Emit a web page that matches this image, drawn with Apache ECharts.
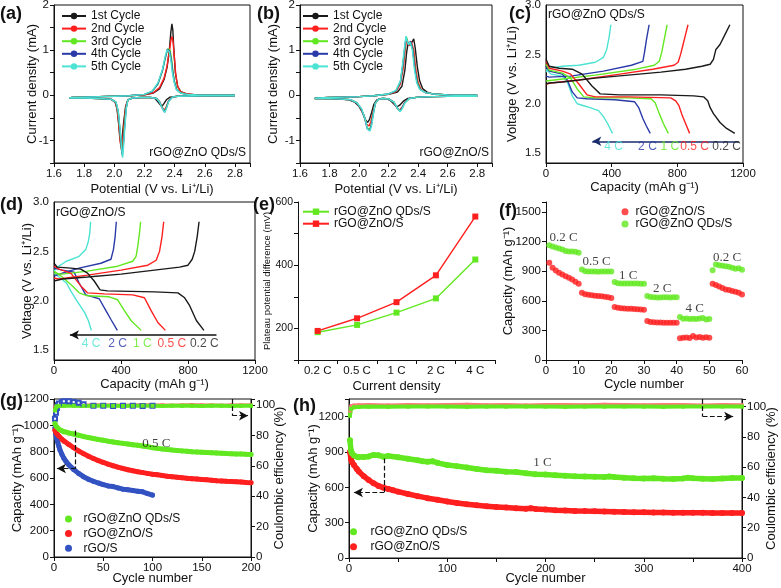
<!DOCTYPE html>
<html><head><meta charset="utf-8">
<script src="https://cdn.jsdelivr.net/npm/echarts@6/dist/echarts.min.js"></script>
<style>html,body{margin:0;padding:0;background:#fff}#c{width:781px;height:588px}</style>
</head><body><div id="c"></div>
<script>
// ---------------- DATA ----------------
// (a) CV rGO@ZnO QDs/S : [potential V, current mA], scan 2.8 -> 1.7 -> 2.8
const cvA1 = [[2.8,-0.01],[2.7,-0.01],[2.6,-0.01],[2.5,-0.015],[2.42,-0.02],[2.37,-0.04],[2.345,-0.1],[2.33,-0.18],[2.315,-0.25],[2.305,-0.24],[2.29,-0.15],[2.27,-0.07],[2.24,-0.05],[2.18,-0.05],[2.12,-0.06],[2.09,-0.1],[2.075,-0.25],[2.062,-0.6],[2.05,-1.0],[2.044,-1.1],[2.037,-0.95],[2.028,-0.6],[2.018,-0.3],[2.005,-0.15],[1.98,-0.09],[1.9,-0.07],[1.8,-0.06],[1.7,-0.06],[1.72,-0.05],[1.8,-0.04],[1.9,-0.03],[2.0,-0.02],[2.1,-0.01],[2.2,0.01],[2.26,0.05],[2.3,0.14],[2.33,0.35],[2.35,0.62],[2.365,1.0],[2.375,1.4],[2.382,1.58],[2.388,1.45],[2.395,1.0],[2.405,0.5],[2.42,0.2],[2.44,0.08],[2.48,0.03],[2.55,0.01],[2.65,0.0],[2.8,0.0]];
const cvA2 = [[2.8,-0.01],[2.6,-0.01],[2.5,-0.015],[2.42,-0.02],[2.385,-0.04],[2.36,-0.12],[2.345,-0.25],[2.332,-0.33],[2.32,-0.28],[2.3,-0.14],[2.28,-0.07],[2.24,-0.05],[2.18,-0.05],[2.12,-0.06],[2.09,-0.1],[2.075,-0.28],[2.063,-0.7],[2.053,-1.1],[2.048,-1.22],[2.04,-1.05],[2.03,-0.65],[2.02,-0.32],[2.007,-0.15],[1.98,-0.09],[1.9,-0.07],[1.8,-0.06],[1.7,-0.06],[1.72,-0.05],[1.8,-0.04],[1.9,-0.03],[2.0,-0.02],[2.1,-0.01],[2.2,0.01],[2.26,0.06],[2.3,0.17],[2.33,0.38],[2.35,0.65],[2.365,0.98],[2.377,1.25],[2.383,1.3],[2.39,1.18],[2.398,0.85],[2.408,0.45],[2.42,0.2],[2.44,0.08],[2.48,0.03],[2.55,0.01],[2.65,0.0],[2.8,0.0]];
const cvA3 = [[2.8,-0.01],[2.6,-0.01],[2.5,-0.015],[2.42,-0.02],[2.385,-0.04],[2.36,-0.13],[2.345,-0.27],[2.334,-0.36],[2.322,-0.3],[2.3,-0.15],[2.28,-0.07],[2.24,-0.05],[2.18,-0.05],[2.12,-0.06],[2.09,-0.1],[2.077,-0.3],[2.066,-0.75],[2.057,-1.15],[2.052,-1.3],[2.045,-1.1],[2.035,-0.7],[2.025,-0.35],[2.01,-0.15],[1.98,-0.09],[1.9,-0.07],[1.8,-0.06],[1.7,-0.06],[1.72,-0.05],[1.8,-0.04],[1.9,-0.03],[2.0,-0.02],[2.1,-0.01],[2.2,0.02],[2.25,0.08],[2.29,0.25],[2.32,0.55],[2.34,0.85],[2.355,1.03],[2.362,1.06],[2.37,1.0],[2.38,0.8],[2.39,0.5],[2.4,0.3],[2.415,0.13],[2.44,0.05],[2.48,0.02],[2.55,0.01],[2.65,0.0],[2.8,0.0]];
const cvA4 = [[2.8,-0.01],[2.6,-0.01],[2.5,-0.015],[2.42,-0.02],[2.385,-0.04],[2.36,-0.13],[2.345,-0.28],[2.334,-0.37],[2.322,-0.31],[2.3,-0.15],[2.28,-0.07],[2.24,-0.05],[2.18,-0.05],[2.12,-0.06],[2.09,-0.1],[2.078,-0.3],[2.067,-0.78],[2.058,-1.18],[2.053,-1.33],[2.046,-1.12],[2.036,-0.72],[2.026,-0.36],[2.011,-0.15],[1.98,-0.09],[1.9,-0.07],[1.8,-0.06],[1.7,-0.06],[1.72,-0.05],[1.8,-0.04],[1.9,-0.03],[2.0,-0.02],[2.1,-0.01],[2.2,0.02],[2.25,0.08],[2.29,0.26],[2.32,0.56],[2.34,0.86],[2.352,1.02],[2.358,1.04],[2.367,0.98],[2.378,0.78],[2.388,0.5],[2.398,0.3],[2.413,0.13],[2.44,0.05],[2.48,0.02],[2.55,0.01],[2.65,0.0],[2.8,0.0]];
const cvA5 = [[2.8,-0.01],[2.6,-0.01],[2.5,-0.015],[2.42,-0.02],[2.385,-0.04],[2.36,-0.14],[2.346,-0.29],[2.335,-0.38],[2.323,-0.32],[2.3,-0.15],[2.28,-0.07],[2.24,-0.05],[2.18,-0.05],[2.12,-0.06],[2.09,-0.1],[2.079,-0.3],[2.068,-0.8],[2.06,-1.2],[2.055,-1.38],[2.048,-1.15],[2.038,-0.74],[2.027,-0.37],[2.012,-0.15],[1.98,-0.09],[1.9,-0.07],[1.8,-0.06],[1.7,-0.06],[1.72,-0.05],[1.8,-0.04],[1.9,-0.03],[2.0,-0.02],[2.1,-0.01],[2.2,0.02],[2.25,0.09],[2.29,0.28],[2.32,0.58],[2.338,0.87],[2.35,1.01],[2.355,1.03],[2.364,0.97],[2.375,0.78],[2.385,0.5],[2.396,0.3],[2.41,0.13],[2.44,0.05],[2.48,0.02],[2.55,0.01],[2.65,0.0],[2.8,0.0]];
// (b) CV rGO@ZnO/S
const cvB1 = [[2.8,-0.02],[2.7,-0.02],[2.6,-0.025],[2.5,-0.03],[2.4,-0.04],[2.33,-0.07],[2.3,-0.13],[2.275,-0.22],[2.255,-0.26],[2.238,-0.2],[2.21,-0.11],[2.18,-0.07],[2.15,-0.07],[2.12,-0.1],[2.1,-0.2],[2.085,-0.38],[2.07,-0.54],[2.058,-0.6],[2.045,-0.55],[2.03,-0.42],[2.0,-0.25],[1.97,-0.15],[1.93,-0.1],[1.85,-0.08],[1.75,-0.07],[1.7,-0.07],[1.72,-0.06],[1.8,-0.05],[1.9,-0.04],[2.0,-0.03],[2.1,-0.01],[2.2,0.02],[2.26,0.07],[2.29,0.2],[2.31,0.55],[2.322,0.95],[2.332,1.15],[2.343,1.1],[2.352,1.08],[2.362,1.2],[2.37,1.25],[2.38,1.05],[2.395,0.62],[2.41,0.32],[2.43,0.15],[2.46,0.07],[2.5,0.03],[2.6,0.01],[2.7,0.0],[2.8,0.0]];
const cvB2 = [[2.8,-0.02],[2.6,-0.025],[2.5,-0.03],[2.4,-0.04],[2.34,-0.07],[2.31,-0.15],[2.29,-0.27],[2.272,-0.33],[2.255,-0.27],[2.23,-0.14],[2.2,-0.08],[2.16,-0.07],[2.13,-0.09],[2.11,-0.18],[2.095,-0.36],[2.08,-0.58],[2.068,-0.68],[2.06,-0.7],[2.05,-0.64],[2.035,-0.48],[2.01,-0.28],[1.98,-0.16],[1.94,-0.1],[1.86,-0.08],[1.75,-0.07],[1.7,-0.07],[1.72,-0.06],[1.8,-0.05],[1.9,-0.04],[2.0,-0.03],[2.1,-0.01],[2.2,0.02],[2.25,0.08],[2.28,0.25],[2.3,0.62],[2.312,1.0],[2.322,1.25],[2.333,1.15],[2.343,1.1],[2.353,1.2],[2.36,1.22],[2.37,1.0],[2.385,0.55],[2.4,0.28],[2.42,0.13],[2.45,0.06],[2.5,0.03],[2.6,0.01],[2.7,0.0],[2.8,0.0]];
const cvB3 = [[2.8,-0.02],[2.6,-0.025],[2.5,-0.03],[2.4,-0.04],[2.34,-0.07],[2.31,-0.16],[2.292,-0.28],[2.276,-0.35],[2.26,-0.29],[2.235,-0.15],[2.2,-0.08],[2.16,-0.07],[2.13,-0.09],[2.11,-0.18],[2.097,-0.38],[2.083,-0.64],[2.072,-0.76],[2.065,-0.78],[2.055,-0.72],[2.04,-0.52],[2.015,-0.3],[1.985,-0.17],[1.945,-0.1],[1.86,-0.08],[1.75,-0.07],[1.7,-0.07],[1.72,-0.06],[1.8,-0.05],[1.9,-0.04],[2.0,-0.03],[2.1,-0.01],[2.2,0.03],[2.25,0.1],[2.28,0.3],[2.298,0.7],[2.31,1.05],[2.32,1.3],[2.33,1.18],[2.34,1.12],[2.35,1.18],[2.356,1.18],[2.365,1.0],[2.38,0.55],[2.395,0.28],[2.415,0.13],[2.45,0.06],[2.5,0.03],[2.6,0.01],[2.7,0.0],[2.8,0.0]];
const cvB4 = [[2.8,-0.02],[2.6,-0.025],[2.5,-0.03],[2.4,-0.04],[2.34,-0.07],[2.31,-0.16],[2.292,-0.28],[2.276,-0.35],[2.26,-0.29],[2.235,-0.15],[2.2,-0.08],[2.16,-0.07],[2.13,-0.09],[2.11,-0.18],[2.097,-0.39],[2.083,-0.66],[2.072,-0.78],[2.065,-0.8],[2.055,-0.74],[2.04,-0.53],[2.015,-0.3],[1.985,-0.17],[1.945,-0.1],[1.86,-0.08],[1.75,-0.07],[1.7,-0.07],[1.72,-0.06],[1.8,-0.05],[1.9,-0.04],[2.0,-0.03],[2.1,-0.01],[2.2,0.03],[2.25,0.1],[2.28,0.3],[2.298,0.72],[2.31,1.08],[2.318,1.28],[2.328,1.17],[2.338,1.12],[2.348,1.2],[2.353,1.22],[2.363,1.02],[2.378,0.57],[2.393,0.28],[2.413,0.13],[2.45,0.06],[2.5,0.03],[2.6,0.01],[2.7,0.0],[2.8,0.0]];
const cvB5 = [[2.8,-0.02],[2.6,-0.025],[2.5,-0.03],[2.4,-0.04],[2.34,-0.07],[2.31,-0.17],[2.293,-0.29],[2.278,-0.36],[2.262,-0.3],[2.237,-0.15],[2.2,-0.08],[2.16,-0.07],[2.13,-0.09],[2.11,-0.18],[2.098,-0.4],[2.085,-0.67],[2.074,-0.79],[2.067,-0.81],[2.057,-0.75],[2.042,-0.54],[2.017,-0.3],[1.987,-0.17],[1.945,-0.1],[1.86,-0.08],[1.75,-0.07],[1.7,-0.07],[1.72,-0.06],[1.8,-0.05],[1.9,-0.04],[2.0,-0.03],[2.1,-0.01],[2.2,0.03],[2.25,0.11],[2.28,0.32],[2.297,0.75],[2.309,1.1],[2.318,1.31],[2.327,1.18],[2.336,1.12],[2.345,1.18],[2.35,1.2],[2.36,1.02],[2.375,0.57],[2.39,0.28],[2.41,0.13],[2.45,0.06],[2.5,0.03],[2.6,0.01],[2.7,0.0],[2.8,0.0]];
const cycleNames = ['1st Cycle','2nd Cycle','3rd Cycle','4th Cycle','5th Cycle'];

// (c) charge/discharge rGO@ZnO QDs/S : [capacity mAh/g, voltage V]
const c02D = [[0,2.45],[20,2.38],[80,2.36],[160,2.35],[220,2.3],[280,2.18],[330,2.1],[450,2.09],[700,2.09],[900,2.08],[960,2.07],[985,2.03],[1000,1.96],[1020,1.9],[1060,1.81],[1100,1.75],[1150,1.7]];
const c02C = [[0,2.2],[20,2.21],[100,2.22],[300,2.26],[500,2.29],[700,2.32],[850,2.35],[950,2.38],[1000,2.4],[1020,2.45],[1035,2.55],[1060,2.6],[1090,2.7],[1120,2.8]];
const c05D = [[0,2.43],[20,2.36],[100,2.33],[150,2.3],[200,2.2],[250,2.09],[300,2.07],[500,2.07],[760,2.06],[790,2.03],[810,1.98],[830,1.88],[850,1.8],[875,1.7]];
const c05C = [[0,2.2],[30,2.21],[200,2.24],[450,2.3],[650,2.35],[780,2.39],[805,2.42],[820,2.5],[835,2.6],[850,2.7],[865,2.8]];
const c1D = [[0,2.4],[20,2.34],[100,2.31],[150,2.26],[190,2.15],[230,2.07],[300,2.06],[500,2.06],[640,2.05],[665,2.01],[690,1.9],[715,1.8],[745,1.7]];
const c1C = [[0,2.23],[50,2.24],[300,2.29],[550,2.35],[660,2.39],[690,2.43],[705,2.52],[720,2.65],[738,2.8]];
const c2D = [[0,2.38],[20,2.33],[100,2.3],[130,2.24],[160,2.12],[190,2.06],[250,2.05],[420,2.04],[540,2.02],[565,1.96],[590,1.85],[610,1.78],[635,1.7]];
const c2C = [[0,2.28],[20,2.27],[150,2.28],[350,2.33],[520,2.39],[590,2.43],[600,2.52],[612,2.65],[628,2.8]];
const c4D = [[0,2.35],[30,2.3],[100,2.28],[130,2.22],[160,2.08],[190,2.0],[250,1.97],[320,1.93],[350,1.87],[375,1.8],[405,1.7]];
const c4C = [[0,2.32],[20,2.36],[100,2.38],[200,2.39],[300,2.42],[350,2.47],[370,2.55],[385,2.68],[395,2.8]];
// (d) charge/discharge rGO@ZnO/S
const d02D = [[0,2.38],[20,2.34],[100,2.33],[160,2.32],[200,2.28],[240,2.2],[275,2.11],[320,2.1],[600,2.09],[740,2.08],[780,2.03],[810,1.95],[850,1.8],[895,1.7]];
const d02C = [[0,2.2],[50,2.22],[200,2.24],[400,2.27],[600,2.31],[750,2.34],[800,2.36],[825,2.42],[840,2.5],[855,2.65],[866,2.8]];
const d05D = [[0,2.35],[30,2.32],[100,2.28],[160,2.15],[200,2.08],[300,2.07],[470,2.06],[540,2.03],[580,1.9],[620,1.78],[665,1.7]];
const d05C = [[0,2.23],[30,2.22],[200,2.26],[400,2.31],[560,2.36],[610,2.41],[630,2.5],[645,2.65],[655,2.8]];
const d1D = [[0,2.3],[50,2.24],[110,2.15],[150,2.08],[200,2.05],[330,2.04],[380,2.01],[420,1.9],[460,1.8],[520,1.7]];
const d1C = [[0,2.28],[50,2.27],[200,2.3],[380,2.35],[470,2.4],[490,2.45],[500,2.55],[510,2.68],[517,2.8]];
const d2D = [[0,2.33],[50,2.31],[120,2.29],[150,2.18],[190,2.06],[230,2.04],[270,2.02],[310,1.9],[340,1.81],[378,1.7]];
const d2C = [[0,2.25],[50,2.28],[150,2.33],[280,2.38],[340,2.42],[355,2.52],[365,2.65],[372,2.8]];
const d4D = [[0,2.28],[30,2.24],[74,2.18],[100,2.1],[133,2.01],[183,1.88],[205,1.8],[223,1.7]];
const d4C = [[0,2.3],[20,2.34],[74,2.4],[150,2.45],[190,2.52],[205,2.6],[213,2.68],[219,2.8]];
const rateNames = ['4 C','2 C','1 C','0.5 C','0.2 C'];

// (e) plateau potential difference (mV)
const eCats = ['0.2 C','0.5 C','1 C','2 C','4 C'];
const eQD = [188,211,250,295,418];
const eZnO = [192,232,283,368,554];

// (f) rate capability, cycles 1..60
const fZnO = [984,934,907,883,866,849,832,816,792,772,681,665,660,655,650,648,645,640,635,628,536,530,525,522,520,518,516,515,512,510,394,385,382,380,380,378,378,377,377,376,219,225,228,222,243,228,232,225,230,225,772,760,745,730,715,710,700,690,680,664];
const fQD = [1163,1150,1140,1130,1120,1105,1100,1100,1095,1085,917,900,895,895,895,893,895,897,897,895,789,778,775,775,775,775,774,774,773,772,647,638,635,633,633,635,635,633,635,636,435,418,420,415,418,415,420,425,410,415,910,967,960,955,950,945,935,925,930,915];
const fRateNames = ['0.2 C','0.5 C','1 C','2 C','4 C','0.2 C'];

// (g) cycling at 0.5 C
const gCyc = [1,2,3,5,8,10,15,20,25,30,35,40,45,50,55,60,65,70,75,80,85,90,95,100,105,110,115,120,125,130,135,140,145,150,155,160,165,170,175,180,185,190,195,200];
const gQD = [1013,995,985,970,958,950,942,934,925,915,907,900,893,887,880,874,868,863,858,853,848,843,838,830,825,820,816,812,809,806,803,800,798,796,794,792,790,788,786,785,783,782,780,779];
const gZnO = [962,945,935,918,895,880,855,830,805,785,765,748,732,718,705,693,682,672,663,655,648,641,635,629,624,619,614,610,606,602,598,595,592,589,586,583,580,578,575,573,571,569,566,564];
const gRGOCyc = [1,2,3,4,5,6,8,10,12,15,20,25,30,35,40,45,50,55,60,65,70,75,80,85,90,95,100];
const gRGO = [980,930,895,865,840,815,780,750,728,700,665,635,610,590,575,562,550,540,535,525,515,510,505,500,495,482,470];
const gCECyc = [1,2,3,5,10,20,30,40,50,60,70,80,90,100,110,120,130,140,150,160,170,180,190,200];
const gCEQD = [96.5,98.5,99.2,99.4,99.5,99.6,99.4,99.5,99.6,99.5,99.4,99.5,99.6,99.5,99.4,99.6,99.5,99.5,99.4,99.6,99.5,99.4,99.5,99.6];
const gCEZnO = [98.8,99.8,100,100.1,100,100.1,99.9,100.2,100,100.1,99.9,100.1,100.2,100,100.1,99.9,100,100.2,100.1,100,99.9,100.1,100,100.1];
const gCERCyc = [1,2,3,4,5,8,10,15,20,25,30,40,50,60,70,80,90,100];
const gCERGO = [91,95,98,100,101,102,102.5,102.5,102,101.5,100.5,99.6,99.5,99.4,99.6,99.5,99.4,99.5];

// (h) cycling at 1 C
const hQDCyc = [1,2,3,5,8,10,15,20,25,30,35,40,50,60,70,75,80,85,90,100,110,120,130,140,150,160,170,180,190,200,210,220,230,240,250,260,265,270,280,290,300,310,320,330,340,345,350,360,370,380,390,400];
const hQD = [1000,910,890,870,860,855,858,862,875,872,860,866,855,843,830,822,818,822,808,790,780,768,755,745,740,732,730,720,712,708,703,698,694,692,690,688,692,688,682,677,676,678,672,670,676,682,677,673,670,675,679,679];
const hZnOCyc = [1,2,3,5,8,10,15,20,25,30,35,40,45,50,60,70,80,90,100,110,120,130,140,150,160,170,180,185,190,200,210,220,230,240,250,260,270,280,290,300,310,320,330,340,350,360,370,380,390,400];
const hZnO = [900,840,815,790,755,735,695,662,635,612,597,586,575,563,543,525,508,494,480,467,456,447,440,434,428,423,419,423,417,411,406,403,400,398,396,394,392,390,389,388,387,386,385,385,384,384,383,383,383,382];
const hCECyc = [1,2,5,10,20,40,60,80,100,120,140,160,180,200,220,240,260,280,300,320,340,360,380,400];
const hCEQD = [94,98.5,99.6,99.8,100,99.9,100,100.1,100,99.9,100,100,100.1,100,99.9,100,100,100.1,100,99.9,100,100,100.1,100];
const hCEZnO = [97,100.5,101,101.2,101.3,101.1,101.4,101.2,101.3,101.5,101.2,101.3,101.1,101.4,101.3,101.2,101.5,101.3,101.2,101.4,101.3,101.1,101.3,101.2];

// ---------------- STYLE ----------------
const FONT = 'Liberation Sans';
const SERIF = 'Liberation Serif';
const K='#1a1a1a', R='#ff1f1f', G='#62e820', B='#2a3aa8', CY='#4de3d3', BG='#3352c2';
const cvColors = [K,R,G,B,CY];
const rateColors = [CY,B,G,R,K];

function zip(xs, ys){ return xs.map((x,i)=>[x, ys[i]]); }
function fmtStep(step, dec, maxShow){
  return function(v){
    const r = Math.round(v*1e6)/1e6;
    const k = r/step;
    if (Math.abs(k-Math.round(k))>1e-6) return '';
    if (maxShow!==undefined && r>maxShow+1e-9) return '';
    return r.toFixed(dec);
  };
}
function mkAxis(o){
  const base = {
    type:'value', nameLocation:'middle', nameMoveOverlap:false,
    nameTextStyle:{color:'#111', fontSize:13, fontFamily:FONT},
    axisLine:{show:true, onZero:false, lineStyle:{color:'#111', width:1}},
    axisTick:{show:true, length:4, lineStyle:{color:'#111', width:1}},
    axisLabel:{color:'#111', fontSize:11.5, margin:5, fontFamily:FONT, hideOverlap:false},
    splitLine:{show:false}
  };
  const r = Object.assign({}, base, o);
  r.axisLabel = Object.assign({}, base.axisLabel, o.axisLabel||{});
  if (r.type==='value' && !r.axisLabel.formatter) r.axisLabel.formatter = fmtStep(r.interval, 0);
  r.axisTick = Object.assign({}, base.axisTick, o.axisTick||{});
  r.nameTextStyle = Object.assign({}, base.nameTextStyle, o.nameTextStyle||{});
  return r;
}
function lineS(name, data, color, xi, yi, w){
  return {name, type:'line', data, xAxisIndex:xi, yAxisIndex:yi, symbol:'none', smooth:false,
    lineStyle:{color, width:w||1.4}, itemStyle:{color}, silent:true, z:3};
}
function bandS(name, data, color, xi, yi, w, sz, sym){
  return {name, type:'line', data, xAxisIndex:xi, yAxisIndex:yi, symbol:sym||'circle', symbolSize:sz||5, showSymbol:true,
    lineStyle:{color, width:w, cap:'round', join:'round'}, itemStyle:{color}, silent:true};
}
function textS(xi, yi, items, font, size){
  return {type:'scatter', xAxisIndex:xi, yAxisIndex:yi, symbolSize:0, silent:true, z:10,
    data: items.map(it=>({value:[it[0],it[1]], label:{show:true, position:'inside', formatter:it[2], color:it[3]||'#111', fontFamily:font||FONT, fontSize:size||12}}))};
}
function arrowS(xi, yi, anchor, segs, style){
  return {type:'line', xAxisIndex:xi, yAxisIndex:yi, data:[anchor], symbol:'none', lineStyle:{width:0}, silent:true,
    markLine:{silent:true, symbol:['none','none'], label:{show:false}, lineStyle:style, animation:false, data:segs}};
}
function seg(p, q, arrow){
  return [{coord:p}, arrow ? {coord:q, symbol:'arrow', symbolSize:[7,9]} : {coord:q}];
}

const LN = {
  a1:cycleNames[0],a2:cycleNames[1],a3:cycleNames[2],a4:cycleNames[3],a5:cycleNames[4],
  b1:cycleNames[0],b2:cycleNames[1],b3:cycleNames[2],b4:cycleNames[3],b5:cycleNames[4],
  eQD:'rGO@ZnO QDs/S', eZnO:'rGO@ZnO/S', fZnO:'rGO@ZnO/S', fQD:'rGO@ZnO QDs/S',
  gQD:'rGO@ZnO QDs/S', gZnO:'rGO@ZnO/S', gRGO:'rGO/S', hQD:'rGO@ZnO QDs/S', hZnO:'rGO@ZnO/S'
};
const lfmt = n => LN[n] || n;
const boxGrid = g => Object.assign({show:true, borderColor:'#111', borderWidth:1, backgroundColor:'transparent', containLabel:false, outerBoundsMode:'none'}, g);
const openGrid = g => Object.assign({show:false, containLabel:false, outerBoundsMode:'none'}, g);

const series = [];
const cvA = [cvA1,cvA2,cvA3,cvA4,cvA5], cvB = [cvB1,cvB2,cvB3,cvB4,cvB5];
cvA.forEach((d,i)=>series.push(lineS('a'+(i+1), d, cvColors[i], 0, 0, 1.4)));
cvB.forEach((d,i)=>series.push(lineS('b'+(i+1), d, cvColors[i], 1, 1, 1.4)));
const cD = [c4D,c2D,c1D,c05D,c02D], cC = [c4C,c2C,c1C,c05C,c02C];
const dD = [d4D,d2D,d1D,d05D,d02D], dC = [d4C,d2C,d1C,d05C,d02C];
cD.forEach((d,i)=>{ series.push(lineS('cD'+i, d, rateColors[i], 2, 2, 1.4)); series.push(lineS('cC'+i, cC[i], rateColors[i], 2, 2, 1.4)); });
dD.forEach((d,i)=>{ series.push(lineS('dD'+i, d, rateColors[i], 3, 3, 1.4)); series.push(lineS('dC'+i, dC[i], rateColors[i], 3, 3, 1.4)); });
series.push(arrowS(2,2,[600,2.0],[seg([1175,1.62],[282,1.62],true)],{type:'solid', color:'#1b2d6b', width:1.5}));
series.push(textS(2,2,[[411,1.57,rateNames[0],CY],[618,1.57,rateNames[1],B],[755,1.57,rateNames[2],G],[905,1.57,rateNames[3],R],[1100,1.57,rateNames[4],K]],FONT,12));
series.push(arrowS(3,3,[600,2.0],[seg([970,1.654],[95,1.654],true)],{type:'solid', color:'#111', width:1.5}));
series.push(textS(3,3,[[222,1.57,rateNames[0],CY],[380,1.57,rateNames[1],B],[527,1.57,rateNames[2],G],[703,1.57,rateNames[3],R],[897,1.57,rateNames[4],K]],FONT,12));
// (e)
series.push({name:'eQD', type:'line', data:eQD, xAxisIndex:4, yAxisIndex:4, symbol:'rect', symbolSize:6, lineStyle:{color:G,width:1.4}, itemStyle:{color:G}, silent:true});
series.push({name:'eZnO', type:'line', data:eZnO, xAxisIndex:4, yAxisIndex:4, symbol:'rect', symbolSize:6, lineStyle:{color:R,width:1.4}, itemStyle:{color:R}, silent:true});
// (f)
const fCyc = fZnO.map((_,i)=>i+1);
series.push({name:'fZnO', type:'scatter', data:zip(fCyc,fZnO), xAxisIndex:5, yAxisIndex:5, symbolSize:6, itemStyle:{color:R}, silent:true});
series.push({name:'fQD', type:'scatter', data:zip(fCyc,fQD), xAxisIndex:5, yAxisIndex:5, symbolSize:6, itemStyle:{color:G}, silent:true});
series.push(textS(5,5,[[5.4,1236,fRateNames[0]],[15.5,994,fRateNames[1]],[25.2,853,fRateNames[2]],[35.6,722,fRateNames[3]],[45.5,521,fRateNames[4]],[55.4,1034,fRateNames[5]]],SERIF,13));
// (g)
series.push(bandS('gCEZnO', zip(gCECyc,gCEZnO), '#ff6060', 6, 7, 3, 3, 'rect'));
series.push(bandS('gCERGO', zip(gCERCyc,gCERGO), BG, 6, 7, 1.5, 4, 'emptyRect'));
series.push(bandS('gCEQD', zip(gCECyc,gCEQD), G, 6, 7, 4, 4, 'rect'));
series.push(bandS('gRGO', zip(gRGOCyc,gRGO), BG, 6, 6, 5, 5));
series.push(bandS('gZnO', zip(gCyc,gZnO), R, 6, 6, 5, 5));
series.push(bandS('gQD', zip(gCyc,gQD), G, 6, 6, 5, 5));
series.push(arrowS(6,6,[100,600],[seg([22,960],[22,672],false),seg([22,672],[3,672],true)],{type:'dashed', color:'#111', width:1.2}));
series.push(arrowS(6,7,[100,50],[seg([181,104],[181,93],false),seg([181,93],[197,93],true)],{type:'dashed', color:'#111', width:1.2}));
series.push(textS(6,6,[[104,865,'0.5 C']],SERIF,13));
// (h)
series.push(bandS('hCEZnO', zip(hCECyc,hCEZnO), '#ff7a7a', 7, 9, 3, 3, 'rect'));
series.push(bandS('hCEQD', zip(hCECyc,hCEQD), G, 7, 9, 4, 4, 'rect'));
series.push(bandS('hZnO', zip(hZnOCyc,hZnO), R, 7, 8, 5.5, 6));
series.push(bandS('hQD', zip(hQDCyc,hQD), G, 7, 8, 5.5, 6));
series.push(arrowS(7,8,[100,600],[seg([36,845],[36,556],false),seg([36,556],[5,556],true)],{type:'dashed', color:'#111', width:1.2}));
series.push(arrowS(7,9,[100,50],[seg([360,105],[360,93.5],false),seg([360,93.5],[391,93.5],true)],{type:'dashed', color:'#111', width:1.2}));
series.push(textS(7,8,[[197,810,'1 C']],SERIF,13));

const legBase = {selectedMode:false, orient:'vertical', formatter:lfmt, textStyle:{fontSize:12, color:'#111', fontFamily:FONT}, padding:0};
const gtext = (x,y,t,o) => ({type:'text', x, y, silent:true, style:Object.assign({text:t, fill:'#111', font:'12px '+FONT, textAlign:'left', textVerticalAlign:'middle', align:'left', verticalAlign:'middle'}, o||{})});
const plab = (x,y,t) => gtext(x,y,t,{font:'bold 18px '+FONT});

const option = {
  animation:false,
  backgroundColor:'#fff',
  textStyle:{fontFamily:FONT},
  grid:[
    boxGrid({left:54, top:5, width:196, height:158}),
    boxGrid({left:300, top:5, width:192, height:158}),
    boxGrid({left:546, top:5, width:197, height:158}),
    boxGrid({left:54, top:202, width:201, height:158}),
    openGrid({left:298, top:202, width:197, height:158}),
    openGrid({left:546, top:202, width:196, height:158}),
    boxGrid({left:54, top:399, width:197, height:158}),
    boxGrid({left:349, top:399, width:393, height:159})
  ],
  xAxis:[
    mkAxis({gridIndex:0, min:1.6, max:2.9, interval:0.2, name:'Potential (V vs. Li\u207A/Li)', nameGap:20, axisLabel:{formatter:fmtStep(0.2,1,2.8)}}),
    mkAxis({gridIndex:1, min:1.6, max:2.9, interval:0.2, name:'Potential (V vs. Li\u207A/Li)', nameGap:20, axisLabel:{formatter:fmtStep(0.2,1,2.8)}}),
    mkAxis({gridIndex:2, min:0, max:1200, interval:400, name:'Capacity (mAh g\u207B\u00B9)', nameGap:18}),
    mkAxis({gridIndex:3, min:0, max:1200, interval:400, name:'Capacity (mAh g\u207B\u00B9)', nameGap:18}),
    mkAxis({gridIndex:4, type:'category', data:eCats, boundaryGap:true, name:'Current density', nameGap:20}),
    mkAxis({gridIndex:5, min:0, max:60, interval:10, name:'Cycle number', nameGap:18}),
    mkAxis({gridIndex:6, min:0, max:200, interval:50, name:'Cycle number', nameGap:15}),
    mkAxis({gridIndex:7, min:0, max:400, interval:50, name:'Cycle number', nameGap:14, axisLabel:{formatter:fmtStep(100,0)}})
  ],
  yAxis:[
    mkAxis({gridIndex:0, min:-1.5, max:2, interval:0.5, name:'Current density (mA)', nameGap:15, axisLabel:{formatter:fmtStep(1,0)}}),
    mkAxis({gridIndex:1, min:-1.5, max:2, interval:0.5, name:'Current density (mA)', nameGap:20, axisLabel:{formatter:fmtStep(1,0)}}),
    mkAxis({gridIndex:2, min:1.4, max:3.0, interval:0.1, name:'Voltage (V vs. Li\u207A/Li)', nameGap:27, axisTick:{show:false}, axisLabel:{formatter:fmtStep(0.5,1)}}),
    mkAxis({gridIndex:3, min:1.4, max:3.0, interval:0.1, name:'Voltage (V vs. Li\u207A/Li)', nameGap:20, axisTick:{show:false}, axisLabel:{formatter:fmtStep(0.5,1)}}),
    mkAxis({gridIndex:4, min:100, max:600, interval:100, name:'Plateau potential difference (mV)', nameGap:26, nameTextStyle:{fontSize:9.5}, axisLabel:{formatter:fmtStep(200,0), fontSize:10.5}}),
    mkAxis({gridIndex:5, min:0, max:1600, interval:300, name:'Capacity (mAh g\u207B\u00B9)', nameGap:31, axisLabel:{formatter:fmtStep(300,0,1500)}}),
    mkAxis({gridIndex:6, min:0, max:1200, interval:200, name:'Capacity (mAh g\u207B\u00B9)', nameGap:30}),
    mkAxis({gridIndex:6, position:'right', min:0, max:104, interval:20, name:'Coulombic efficiency (%)', nameGap:22, axisLabel:{formatter:fmtStep(20,0,100)}}),
    mkAxis({gridIndex:7, min:0, max:1350, interval:300, name:'Capacity (mAh g\u207B\u00B9)', nameGap:29, axisLabel:{formatter:fmtStep(300,0,1200)}}),
    mkAxis({gridIndex:7, position:'right', min:0, max:105, interval:20, name:'Coulombic efficiency (%)', nameGap:23, axisLabel:{formatter:fmtStep(20,0,100)}})
  ],
  legend:[
    Object.assign({}, legBase, {data:['a1','a2','a3','a4','a5'], left:61, top:10, itemWidth:24, itemHeight:8, itemGap:0.6}),
    Object.assign({}, legBase, {data:['b1','b2','b3','b4','b5'], left:302, top:10, itemWidth:25, itemHeight:8, itemGap:0.6}),
    Object.assign({}, legBase, {data:['eQD','eZnO'], left:302, top:205.7, itemWidth:26, itemHeight:8, itemGap:0}),
    Object.assign({}, legBase, {data:['fZnO','fQD'], left:621.5, top:205.7, itemWidth:11, itemHeight:7, itemGap:0.3, icon:'circle'}),
    Object.assign({}, legBase, {data:['gQD','gZnO','gRGO'], left:65, top:513, itemWidth:10, itemHeight:7, itemGap:2.6, icon:'circle', textStyle:{fontSize:12, color:'#111', fontFamily:FONT, padding:[0,0,0,5]}}),
    Object.assign({}, legBase, {data:['hQD','hZnO'], left:350, top:525.7, itemWidth:10, itemHeight:7, itemGap:3, icon:'circle', textStyle:{fontSize:12, color:'#111', fontFamily:FONT, padding:[0,0,0,7]}})
  ],
  graphic:[
    plab(0,14,'(a)'), plab(257,14,'(b)'), plab(509,14,'(c)'),
    plab(0,205,'(d)'), plab(253,205,'(e)'), plab(499,211,'(f)'),
    plab(0,401,'(g)'), plab(293,406,'(h)'),
    gtext(246,153,'rGO@ZnO QDs/S',{textAlign:'right', align:'right'}),
    gtext(489,153,'rGO@ZnO/S',{textAlign:'right', align:'right'}),
    gtext(548,15,'rGO@ZnO QDs/S'),
    gtext(56,213,'rGO@ZnO/S')
  ],
  series
};
const chart = echarts.init(document.getElementById('c'), null, {renderer:'canvas'});
chart.setOption(option);
</script></body></html>
